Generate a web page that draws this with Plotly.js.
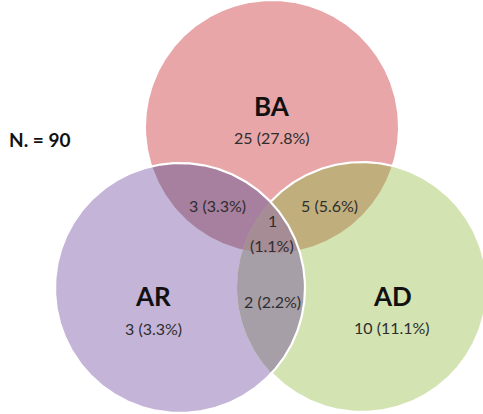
<!DOCTYPE html>
<html>
<head>
<meta charset="utf-8">
<script src="https://cdn.plot.ly/plotly-3.0.1.min.js"></script>
<style>html,body{margin:0;padding:0;background:#fff;}#chart{width:483px;height:414px;}</style>
</head>
<body>
<div id="chart"></div>
<script>
// ---- data ----
const total = 90;
const setNames = ['BA', 'AR', 'AD'];
const onlyCounts = [25, 3, 10];
const onlyPcts = [27.8, 3.3, 11.1];
const pairNames = ['BA∩AR', 'BA∩AD', 'AR∩AD'];
const pairCounts = [3, 5, 2];
const pairPcts = [3.3, 5.6, 2.2];
const tripleCount = 1;
const triplePct = 1.1;

// ---- layout constants (pixel-like data space) ----
const circles = [
  {cx: 272, cy: 127, r: 126},  // BA
  {cx: 180, cy: 288, r: 125},  // AR
  {cx: 362, cy: 287, r: 125}   // AD
];
const setColors = ['#E8A6A8', '#C4B4D7', '#D4E3B2'];
const pairColors = ['#A8809F', '#C0AE7C', '#A79FA8'];
const tripleColor = '#A58C95';

function inside(p, c) { return Math.hypot(p[0]-c.cx, p[1]-c.cy) <= c.r + 1e-6; }
function regionPoly(idx) {
  const pts = [];
  const N = 720;
  idx.forEach(i => {
    const c = circles[i];
    for (let k = 0; k < N; k++) {
      const a = 2*Math.PI*k/N;
      const p = [c.cx + c.r*Math.cos(a), c.cy + c.r*Math.sin(a)];
      if (idx.every(j => j === i || inside(p, circles[j]))) pts.push(p);
    }
  });
  const mx = pts.reduce((s,p)=>s+p[0],0)/pts.length;
  const my = pts.reduce((s,p)=>s+p[1],0)/pts.length;
  pts.sort((p,q)=>Math.atan2(p[1]-my,p[0]-mx)-Math.atan2(q[1]-my,q[0]-mx));
  pts.push(pts[0]);
  return {x: pts.map(p=>p[0]), y: pts.map(p=>p[1])};
}
function fillTrace(idx, color) {
  const p = regionPoly(idx);
  return {x: p.x, y: p.y, mode: 'lines', fill: 'toself', fillcolor: color,
          line: {width: 0, color: color}, hoverinfo: 'skip', showlegend: false, type: 'scatter'};
}
function outline(i, excludeIdx) {
  const c = circles[i];
  const xs = [], ys = [];
  const N = 720;
  for (let k = 0; k <= N; k++) {
    const a = 2*Math.PI*k/N;
    const p = [c.cx + c.r*Math.cos(a), c.cy + c.r*Math.sin(a)];
    if (excludeIdx.some(j => Math.hypot(p[0]-circles[j].cx, p[1]-circles[j].cy) < circles[j].r - 1)) {
      xs.push(null); ys.push(null);
    } else { xs.push(p[0]); ys.push(p[1]); }
  }
  return {x: xs, y: ys, mode: 'lines', line: {color: '#ffffff', width: 2.2},
          connectgaps: false, hoverinfo: 'skip', showlegend: false, type: 'scatter'};
}

const traces = [
  fillTrace([0], setColors[0]),
  fillTrace([1], setColors[1]),
  fillTrace([2], setColors[2]),
  fillTrace([0,1], pairColors[0]),
  fillTrace([0,2], pairColors[1]),
  fillTrace([1,2], pairColors[2]),
  fillTrace([0,1,2], tripleColor),
  outline(2, [1]),
  outline(1, [])
];

const labelFont = {family: 'Lato, "Open Sans", sans-serif', size: 26, color: '#111111'};
const numFont = {family: 'Lato, "Open Sans", sans-serif', size: 16, color: '#2e2e2e'};
const fmt = (n, p) => n + ' (' + p.toFixed(1) + '%)';

const setLabelPos = [[272, 106], [153, 296], [392, 296]];
const setNumPos = [[272, 137], [153, 328], [392, 327]];
const pairNumPos = [[217, 205], [329, 205], [272, 301]];

const annotations = [];
setNames.forEach((n, i) => {
  annotations.push({x: setLabelPos[i][0], y: setLabelPos[i][1], text: '<b>' + n + '</b>', showarrow: false, font: labelFont, xref: 'x', yref: 'y'});
  annotations.push({x: setNumPos[i][0], y: setNumPos[i][1], text: fmt(onlyCounts[i], onlyPcts[i]), showarrow: false, font: numFont, xref: 'x', yref: 'y'});
});
pairNames.forEach((n, i) => {
  annotations.push({x: pairNumPos[i][0], y: pairNumPos[i][1], text: fmt(pairCounts[i], pairPcts[i]), showarrow: false, font: numFont, xref: 'x', yref: 'y'});
});
annotations.push({x: 272, y: 220, text: String(tripleCount), showarrow: false, font: numFont, xref: 'x', yref: 'y'});
annotations.push({x: 272, y: 245, text: '(' + triplePct.toFixed(1) + '%)', showarrow: false, font: numFont, xref: 'x', yref: 'y'});
annotations.push({x: 7, y: 139, xanchor: 'left', text: '<b>N. = ' + total + '</b>', showarrow: false,
  font: {family: 'Lato, "Open Sans", sans-serif', size: 19, color: '#111111'}, xref: 'x', yref: 'y'});

const layout = {
  width: 483, height: 414,
  margin: {l: 0, r: 0, t: 0, b: 0},
  paper_bgcolor: '#ffffff', plot_bgcolor: '#ffffff',
  xaxis: {range: [0, 483], visible: false, fixedrange: true},
  yaxis: {range: [414, 0], visible: false, fixedrange: true},
  showlegend: false,
  annotations: annotations
};
Plotly.newPlot('chart', traces, layout, {displayModeBar: false, staticPlot: true});
</script>
</body>
</html>
